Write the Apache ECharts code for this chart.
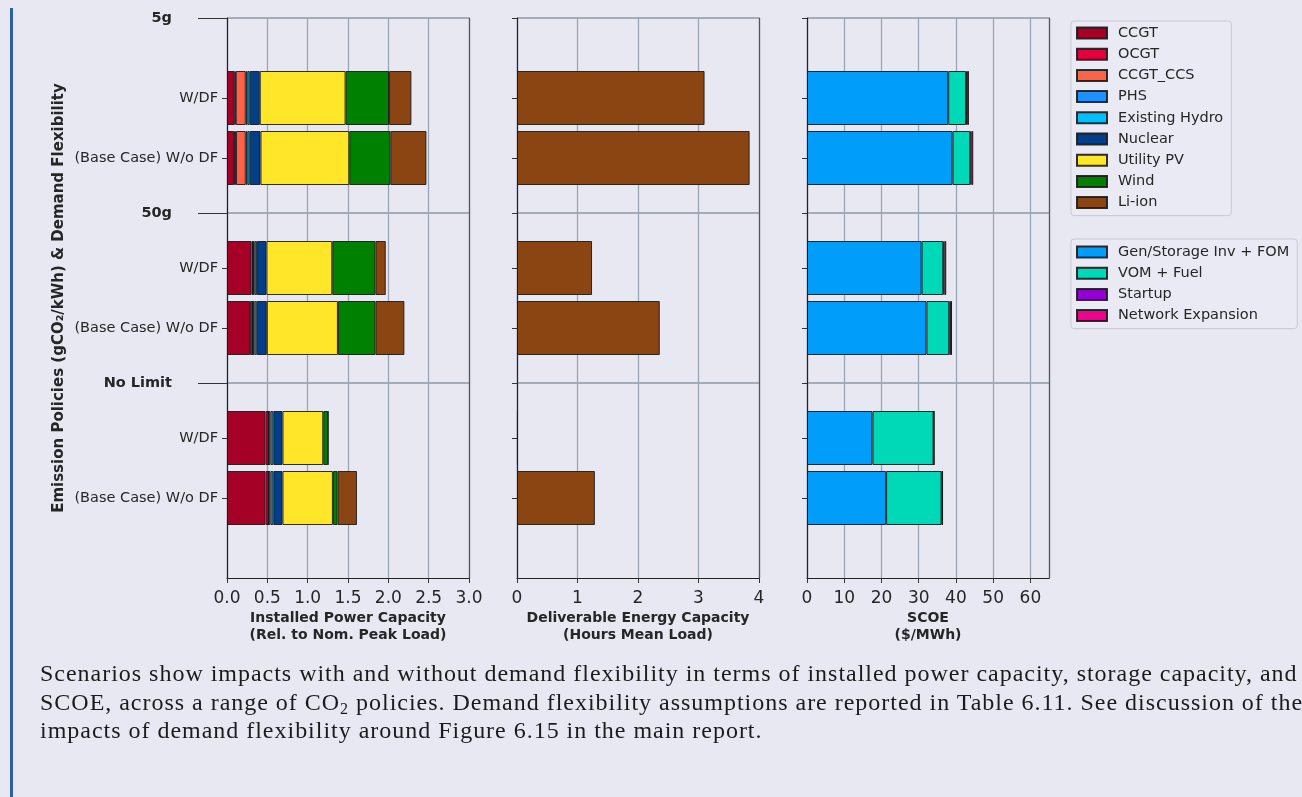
<!DOCTYPE html>
<html lang="en">
<head>
<meta charset="UTF-8">
<title>Demand flexibility scenarios</title>
<script src="https://cdn.jsdelivr.net/npm/echarts@6/dist/echarts.min.js"></script>
<style>
	html, body { margin: 0; padding: 0; background: #e8e8f3; }
	#wrap { position: relative; width: 1302px; height: 797px; overflow: hidden; background: #e8e8f3; }
	#main { position: absolute; left: 0; top: 0; width: 1302px; height: 797px; z-index: 1; }
	#edge { position: absolute; left: 10px; top: 8px; width: 3px; height: 789px; background: #2c5fa6; z-index: 2; }
	#caption { position: absolute; left: 40px; top: 659px; font-family: 'Liberation Serif', 'DejaVu Serif', serif;
		font-size: 24px; letter-spacing: 0.98px; line-height: 28.5px; color: #1b1b1b; white-space: nowrap; z-index: 2; }
	#caption sub { font-size: 16px; line-height: 0; vertical-align: -4px; }
</style>
</head>
<body>
<div id="wrap">
	<div id="main"></div>
	<div id="edge"></div>
	<div id="caption">
		Scenarios show impacts with and without demand flexibility in terms of installed power capacity, storage capacity, and<br>
		SCOE, across a range of CO<sub>2</sub> policies. Demand flexibility assumptions are reported in Table 6.11. See discussion of the<br>
		impacts of demand flexibility around Figure 6.15 in the main report.
	</div>
</div>

<script>
	// rows, top to bottom
	var rowLabels = ['W/DF', '(Base Case) W/o DF', 'W/DF', '(Base Case) W/o DF', 'W/DF', '(Base Case) W/o DF'];
	var groupLabels = ['5g', '50g', 'No Limit'];

	// installed power capacity (rel. to nom. peak load)
	var ccgt       = [0.096, 0.087, 0.303, 0.286, 0.477, 0.477];
	var ocgt       = [0.012, 0.025, 0.020, 0.033, 0.037, 0.037];
	var ccgtCcs    = [0.124, 0.120, 0, 0, 0, 0];
	var phs        = [0.020, 0.020, 0.020, 0.020, 0.025, 0.025];
	var hydro      = [0.030, 0.030, 0.030, 0.030, 0.035, 0.035];
	var nuclear    = [0.124, 0.133, 0.116, 0.124, 0.114, 0.114];
	var utilityPv  = [1.064, 1.101, 0.816, 0.882, 0.505, 0.625];
	var wind       = [0.539, 0.509, 0.535, 0.465, 0.058, 0.058];
	var liIonPower = [0.277, 0.447, 0.128, 0.359, 0.005, 0.240];

	// deliverable energy capacity (hours mean load)
	var liIonEnergy = [3.10, 3.845, 1.24, 2.36, 0.015, 1.287];

	// SCOE ($/MWh)
	var genInv  = [37.93, 39.10, 30.78, 32.10, 17.60, 21.25];
	var vomFuel = [4.77, 4.76, 5.82, 6.10, 16.40, 14.90];
	var startup = [0.3, 0.3, 0.3, 0.5, 0.1, 0.25];
	var network = [0.5, 0.5, 0.5, 0.2, 0, 0];

	var xTicks1 = { min: 0, max: 3, interval: 0.5 };
	var xTicks2 = { min: 0, max: 4, interval: 1 };
	var xTicks3 = { min: 0, max: 65, interval: 10 };

	// vertical layout: fine category slots, rows and group headers sit on some of them
	var slotCount = 113;
	var rowSlot = [16, 28, 50, 62, 84, 96];
	var groupSlot = [0, 39, 73];

	var slots = [];
	for (var i = 0; i < slotCount; i++) slots.push(String(i));
	function isRow(i) { return rowSlot.indexOf(i) >= 0; }
	function isGroup(i) { return groupSlot.indexOf(i) >= 0; }
	function spread(vals) {
		var out = slots.map(function () { return '-'; });
		rowSlot.forEach(function (s, k) { out[s] = vals[k]; });
		return out;
	}

	var FONT = 'DejaVu Sans';
	var TXT = '#262626';
	var gridTop = 18, gridH = 560;
	var grids = [
		{ left: 227, top: gridTop, width: 242, height: gridH, outerBoundsMode: 'none' },
		{ left: 517, top: gridTop, width: 242, height: gridH, outerBoundsMode: 'none' },
		{ left: 807, top: gridTop, width: 242, height: gridH, outerBoundsMode: 'none' }
	];

	function rowAxis(g, withLabels) {
		return {
			type: 'category', gridIndex: g, position: 'left', data: slots, boundaryGap: false, inverse: true,
			axisLine: { show: true, lineStyle: { color: '#222', width: 1.2 } },
			axisTick: { show: true, length: 5, interval: function (i) { return isRow(i) || (g > 0 && isGroup(i)); },
				lineStyle: { color: '#333' } },
			axisLabel: { show: withLabels, interval: function (i) { return isRow(i); }, margin: 9,
				fontFamily: FONT, fontSize: 14.5, color: TXT,
				formatter: function (v, i) { return rowLabels[rowSlot.indexOf(i)] || ''; } },
			splitLine: { show: true, interval: function (i) { return isGroup(i); },
				lineStyle: { color: '#8e98a6', width: 1.5 } }
		};
	}
	function spineAxis(g) {
		return {
			type: 'category', gridIndex: g, position: 'right', data: slots, boundaryGap: false, inverse: true,
			axisLine: { show: true, lineStyle: { color: '#555', width: 1.2 } },
			axisTick: { show: false }, axisLabel: { show: false }, splitLine: { show: false }
		};
	}
	var groupAxis = {
		type: 'category', gridIndex: 0, position: 'left', data: slots, boundaryGap: false, inverse: true,
		name: 'Emission Policies (gCO₂/kWh) & Demand Flexibility', nameLocation: 'middle', nameGap: 160,
		nameTextStyle: { fontFamily: FONT, fontSize: 15, fontWeight: 'bold', color: TXT },
		axisLine: { show: false },
		axisTick: { show: true, length: 29, interval: function (i) { return isGroup(i); }, lineStyle: { color: '#333' } },
		axisLabel: { interval: function (i) { return isGroup(i); }, margin: 55,
			fontFamily: FONT, fontSize: 14.5, fontWeight: 'bold', color: TXT,
			formatter: function (v, i) { return groupLabels[groupSlot.indexOf(i)] || ''; } },
		splitLine: { show: false }
	};

	function valueAxis(g, ticks, name, fmt) {
		return {
			type: 'value', gridIndex: g, min: ticks.min, max: ticks.max, interval: ticks.interval,
			name: name, nameLocation: 'middle', nameGap: 32, nameMoveOverlap: false,
			nameTextStyle: { fontFamily: FONT, fontSize: 14, fontWeight: 'bold', color: TXT, lineHeight: 17 },
			axisLine: { show: true, lineStyle: { color: '#222', width: 1.2 } },
			axisTick: { show: true, length: 5, lineStyle: { color: '#333' } },
			axisLabel: { fontFamily: FONT, fontSize: 17, color: TXT, margin: 12, showMaxLabel: g !== 2, formatter: fmt },
			splitLine: { show: true, lineStyle: { color: '#9ba6b5', width: 1.3 } }
		};
	}

	var mychart = echarts.init(document.getElementById('main'), null, { renderer: 'canvas' });

	var border = { borderColor: 'rgba(25,25,25,0.9)', borderWidth: 1 };
	function bar(name, vals, color, x, y, stack) {
		return {
			name: name, type: 'bar', xAxisIndex: x, yAxisIndex: y, stack: stack, barWidth: 54,
			data: spread(vals), itemStyle: Object.assign({ color: color }, border)
		};
	}

	var techNames = ['CCGT', 'OCGT', 'CCGT_CCS', 'PHS', 'Existing Hydro', 'Nuclear', 'Utility PV', 'Wind', 'Li-ion'];
	var costNames = ['Gen/Storage Inv + FOM', 'VOM + Fuel', 'Startup', 'Network Expansion'];

	var legendBase = {
		orient: 'vertical', left: 1071, itemWidth: 30, itemHeight: 11, itemGap: 5.2, icon: 'rect',
		borderColor: '#c9c9d3', borderWidth: 1, borderRadius: 3, backgroundColor: 'rgba(255,255,255,0.12)',
		textStyle: { fontFamily: FONT, fontSize: 14.5, color: TXT, lineHeight: 16, padding: [0, 0, 0, 6] }
	};

	mychart.setOption({
		animation: false,
		backgroundColor: '#e8e8f3',
		grid: grids,
		xAxis: [
			valueAxis(0, xTicks1, 'Installed Power Capacity\n(Rel. to Nom. Peak Load)', function (v) { return v.toFixed(1); }),
			valueAxis(1, xTicks2, 'Deliverable Energy Capacity\n(Hours Mean Load)', function (v) { return String(v); }),
			valueAxis(2, xTicks3, 'SCOE\n($/MWh)', function (v) { return String(v); })
		],
		yAxis: [rowAxis(0, true), groupAxis, spineAxis(0), rowAxis(1, false), spineAxis(1), rowAxis(2, false), spineAxis(2)],
		legend: [
			Object.assign({}, legendBase, { top: 21, padding: [4, 8, 5, 5], data: techNames }),
			Object.assign({}, legendBase, { top: 239, padding: [5, 8, 5, 5], data: costNames })
		],
		series: [
			bar('CCGT', ccgt, '#a50026', 0, 0, 'cap'),
			bar('OCGT', ocgt, '#e4003b', 0, 0, 'cap'),
			bar('CCGT_CCS', ccgtCcs, '#ff6347', 0, 0, 'cap'),
			bar('PHS', phs, '#1e90ff', 0, 0, 'cap'),
			bar('Existing Hydro', hydro, '#00bfff', 0, 0, 'cap'),
			bar('Nuclear', nuclear, '#023e8a', 0, 0, 'cap'),
			bar('Utility PV', utilityPv, '#ffe629', 0, 0, 'cap'),
			bar('Wind', wind, '#008000', 0, 0, 'cap'),
			bar('Li-ion', liIonPower, '#8b4513', 0, 0, 'cap'),
			bar('Li-ion', liIonEnergy, '#8b4513', 1, 3, 'energy'),
			bar('Gen/Storage Inv + FOM', genInv, '#009dfa', 2, 5, 'cost'),
			bar('VOM + Fuel', vomFuel, '#00d9b8', 2, 5, 'cost'),
			bar('Startup', startup, '#9400d3', 2, 5, 'cost'),
			bar('Network Expansion', network, '#f0008c', 2, 5, 'cost')
		]
	});
</script>
</body>
</html>
